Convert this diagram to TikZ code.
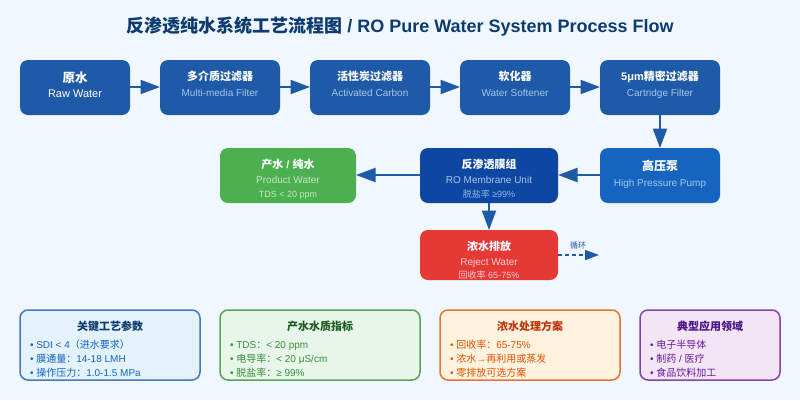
\documentclass[tikz,border=0pt]{standalone}
\usepackage{fontspec}
\setmainfont{Liberation Sans}
\newfontfamily\cjk{Noto Sans CJK SC}
\newcommand{\zh}[1]{{\cjk #1}}
\usetikzlibrary{arrows.meta}
\definecolor{bgc}{HTML}{F0F7FF}
\definecolor{titlec}{HTML}{0D3B70}
\definecolor{stepc}{HTML}{1E5AA8}
\definecolor{roc}{HTML}{0D47A1}
\definecolor{pumpc}{HTML}{1565C0}
\definecolor{goodc}{HTML}{4CAF50}
\definecolor{badc}{HTML}{E53935}
\definecolor{subblue}{HTML}{A6C4EC}
\definecolor{subgreen}{HTML}{C8E6C9}
\definecolor{subred}{HTML}{FFCDD2}
\definecolor{subro}{HTML}{90B4E8}
\definecolor{bluefill}{HTML}{E3F2FD}
\definecolor{greenfill}{HTML}{E8F5E9}
\definecolor{orangefill}{HTML}{FFF3E0}
\definecolor{purplefill}{HTML}{F3E5F5}
\definecolor{blueedge}{HTML}{1E5AA8}
\definecolor{greenedge}{HTML}{388E3C}
\definecolor{orangeedge}{HTML}{E65100}
\definecolor{purpleedge}{HTML}{6A1B9A}
\definecolor{bluehead}{HTML}{0D3B70}
\definecolor{greenhead}{HTML}{1B5E20}
\definecolor{orangehead}{HTML}{BF360C}
\definecolor{purplehead}{HTML}{4A148C}
\tikzset{
  every node/.style={inner sep=0pt,outer sep=0pt},
  procbox/.style={rounded corners=8pt,anchor=north west,draw=none},
  infobox/.style={rounded corners=8pt,anchor=north west,line width=1.5pt,draw opacity=.8},
  head/.style={anchor=base,font=\bfseries\fontsize{11}{13}\selectfont,text=white},
  sub/.style={anchor=base,font=\fontsize{10}{12}\selectfont},
  small/.style={anchor=base,font=\fontsize{9}{10}\selectfont},
  infohead/.style={anchor=base,font=\bfseries\fontsize{11}{13}\selectfont},
  infoline/.style={anchor=base west,font=\fontsize{10}{11}\selectfont},
  flow/.style={draw=stepc,line width=2pt,-{Triangle[length=19.5pt,width=14pt,fill=stepc]}},
  recycle/.style={draw=stepc,line width=1.5pt,dash pattern=on 4pt off 3pt,-{Triangle[length=14pt,width=10pt,fill=stepc]}}
}
\begin{document}
\begin{tikzpicture}[x=1pt,y=-1pt]
\useasboundingbox (0,0) rectangle (800,400);
\fill[bgc] (0,0) rectangle (800,400);
\node[anchor=base,font=\bfseries\fontsize{18}{22}\selectfont,text=titlec] (title) at (400,32) {\zh{反渗透纯水系统工艺流程图} / RO Pure Water System Process Flow};

% process boxes
\node[procbox,fill=stepc,minimum width=110pt,minimum height=55pt] (raw) at (20,60) {};
\node[procbox,fill=stepc,minimum width=120pt,minimum height=55pt] (multi) at (160,60) {};
\node[procbox,fill=stepc,minimum width=120pt,minimum height=55pt] (carbon) at (310,60) {};
\node[procbox,fill=stepc,minimum width=110pt,minimum height=55pt] (soft) at (460,60) {};
\node[procbox,fill=stepc,minimum width=120pt,minimum height=55pt] (cart) at (600,60) {};
\node[procbox,fill=pumpc,minimum width=120pt,minimum height=55pt] (pump) at (600,148) {};
\node[procbox,fill=roc,minimum width=138pt,minimum height=55pt] (ro) at (420,148) {};
\node[procbox,fill=goodc,minimum width=136pt,minimum height=55pt] (prod) at (220,148) {};
\node[procbox,fill=badc,minimum width=138pt,minimum height=50pt] (rej) at (420,230) {};

% process texts
\node[head,font=\bfseries\fontsize{12.5}{14}\selectfont] (t1a) at (75,82) {\zh{原水}};
\node[sub,text=white,font=\fontsize{11}{13}\selectfont] (t1b) at (75,97) {Raw Water};
\node[head] (t2a) at (220,80) {\zh{多介质过滤器}};
\node[sub,text=subblue] (t2b) at (220,96) {Multi-media Filter};
\node[head] (t3a) at (370,80) {\zh{活性炭过滤器}};
\node[sub,text=subblue] (t3b) at (370,96) {Activated Carbon};
\node[head] (t4a) at (515,80) {\zh{软化器}};
\node[sub,text=subblue] (t4b) at (515,96) {Water Softener};
\node[head] (t5a) at (660,80) {5μm\zh{精密过滤器}};
\node[sub,text=subblue] (t5b) at (660,96) {Cartridge Filter};
\node[head,font=\bfseries\fontsize{12}{14}\selectfont] (t6a) at (660,170) {\zh{高压泵}};
\node[sub,text=subblue] (t6b) at (660,186) {High Pressure Pump};
\node[head] (t7a) at (489,168) {\zh{反渗透膜组}};
\node[sub,text=subblue] (t7b) at (489,183) {RO Membrane Unit};
\node[small,text=subro] (t7c) at (489,197) {\zh{脱盐率} ≥99\%};
\node[head] (t8a) at (288,168) {\zh{产水} / \zh{纯水}};
\node[sub,text=subgreen] (t8b) at (288,183) {Product Water};
\node[small,text=subgreen] (t8c) at (288,197) {TDS < 20 ppm};
\node[head] (t9a) at (489,250) {\zh{浓水排放}};
\node[sub,text=subred] (t9b) at (489,265) {Reject Water};
\node[small,text=subred] (t9c) at (489,278) {\zh{回收率} 65-75\%};

% connectors
\draw[flow] ([yshift=.5pt]raw.east) -- ([yshift=.5pt]multi.west);
\draw[flow] ([yshift=.5pt]multi.east) -- ([yshift=.5pt]carbon.west);
\draw[flow] ([yshift=.5pt]carbon.east) -- ([yshift=.5pt]soft.west);
\draw[flow] ([yshift=.5pt]soft.east) -- ([yshift=.5pt]cart.west);
\draw[flow] (cart.south) -- (pump.north);
\draw[flow] ([yshift=.5pt]pump.west) -- ([yshift=.5pt]ro.east);
\draw[flow] ([yshift=.5pt]ro.west) -- ([yshift=.5pt]prod.east);
\draw[flow] (ro.south) -- (rej.north);
\coordinate (recycleend) at (599,255);
\draw[recycle] (rej.east) -- (recycleend);
\node[anchor=base,font=\fontsize{8}{9}\selectfont,text=stepc] (recyclelabel) at (578,248) {\zh{循环}};

% info panels
\node[infobox,draw=blueedge,fill=bluefill,minimum width=180pt,minimum height=70pt] (p1) at (20,310) {};
\node[infobox,draw=greenedge,fill=greenfill,minimum width=200pt,minimum height=70pt] (p2) at (220,310) {};
\node[infobox,draw=orangeedge,fill=orangefill,minimum width=180pt,minimum height=70pt] (p3) at (440,310) {};
\node[infobox,draw=purpleedge,fill=purplefill,minimum width=140pt,minimum height=70pt] (p4) at (640,310) {};

\node[infohead,text=bluehead] (h1) at (110,330) {\zh{关键工艺参数}};
\node[infoline,text=pumpc] (l11) at (30,348) {• SDI < 4\zh{（进水要求）}};
\node[infoline,text=pumpc] (l12) at (30,362) {• \zh{膜通量：}14-18 LMH};
\node[infoline,text=pumpc] (l13) at (30,376) {• \zh{操作压力：}1.0-1.5 MPa};

\node[infohead,text=greenhead] (h2) at (320,330) {\zh{产水水质指标}};
\node[infoline,text=greenedge] (l21) at (230,348) {• TDS\zh{：}< 20 ppm};
\node[infoline,text=greenedge] (l22) at (230,362) {• \zh{电导率：}< 20 μS/cm};
\node[infoline,text=greenedge] (l23) at (230,376) {• \zh{脱盐率：}≥ 99\%};

\node[infohead,text=orangehead] (h3) at (530,330) {\zh{浓水处理方案}};
\node[infoline,text=orangeedge] (l31) at (450,348) {• \zh{回收率：}65-75\%};
\node[infoline,text=orangeedge] (l32) at (450,362) {• \zh{浓水}→\zh{再利用或蒸发}};
\node[infoline,text=orangeedge] (l33) at (450,376) {• \zh{零排放可选方案}};

\node[infohead,text=purplehead] (h4) at (710,330) {\zh{典型应用领域}};
\node[infoline,text=purpleedge] (l41) at (650,348) {• \zh{电子半导体}};
\node[infoline,text=purpleedge] (l42) at (650,362) {• \zh{制药} / \zh{医疗}};
\node[infoline,text=purpleedge] (l43) at (650,376) {• \zh{食品饮料加工}};
\end{tikzpicture}
\end{document}
